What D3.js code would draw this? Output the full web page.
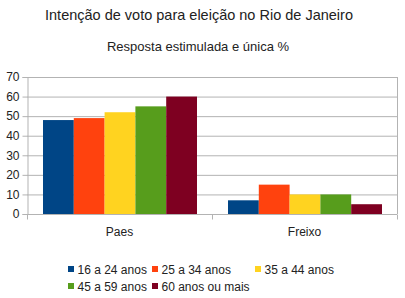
<!DOCTYPE html>
<html>
<head>
<meta charset="utf-8">
<script src="https://cdn.jsdelivr.net/npm/d3@7"></script>
<style>
  body { margin: 0; background: #fff; }
  svg text { font-family: "Liberation Sans", Arial, sans-serif; }
</style>
</head>
<body>
<div id="chart"></div>
<script>
// dados do grafico
const candidatos = ["Paes", "Freixo"];
const faixas = ["16 a 24 anos", "25 a 34 anos", "35 a 44 anos", "45 a 59 anos", "60 anos ou mais"];
const valores = {
  "Paes":   [48, 49, 52, 55, 60],
  "Freixo": [7, 15, 10, 10, 5]
};
const yTicks = [0, 10, 20, 30, 40, 50, 60, 70];
const cores = ["#004586", "#ff420e", "#ffd320", "#579d1c", "#7e0021"];

const W = 405, H = 298;
const margin = { top: 77, right: 8, bottom: 84, left: 27 };
const w = W - margin.left - margin.right;
const h = H - margin.top - margin.bottom;

const svg = d3.select("#chart").append("svg")
  .attr("width", W).attr("height", H);

// titulos
svg.append("text").attr("x", 199).attr("y", 20)
  .attr("text-anchor", "middle").attr("font-size", 14.5).attr("fill", "#222")
  .text("Intenção de voto para eleição no Rio de Janeiro");
svg.append("text").attr("x", 198).attr("y", 51)
  .attr("text-anchor", "middle").attr("font-size", 13).attr("fill", "#222")
  .text("Resposta estimulada e única %");

const g = svg.append("g").attr("transform", `translate(${margin.left},${margin.top})`);

const x0 = d3.scaleBand().domain(candidatos).range([0, w]);
const x1 = d3.scaleBand().domain(faixas).range([16, x0.bandwidth() - 15]);
const y = d3.scaleLinear().domain([0, 70]).range([h, 0]);

// grade
g.append("g").selectAll("line").data(yTicks).join("line")
  .attr("x1", 0).attr("x2", w)
  .attr("y1", d => y(d) + 0.5).attr("y2", d => y(d) + 0.5)
  .attr("stroke", "#b3b3b3");
g.append("line").attr("x1", w + 0.5).attr("x2", w + 0.5).attr("y1", 0).attr("y2", h)
  .attr("stroke", "#b3b3b3");

// eixo y
const yAxis = g.append("g").attr("transform", "translate(0.5,0)")
  .call(d3.axisLeft(y).tickValues(yTicks).tickSize(5).tickPadding(3));
yAxis.select(".domain").attr("stroke", "#b3b3b3");
yAxis.selectAll(".tick line").attr("stroke", "#b3b3b3");
yAxis.selectAll("text").attr("font-size", 12).attr("fill", "#222")
  .attr("font-family", "Liberation Sans, Arial, sans-serif");

// eixo x
const xAxis = g.append("g").attr("transform", `translate(0,${h + 0.5})`);
xAxis.append("line").attr("x1", 0).attr("x2", w).attr("stroke", "#b3b3b3");
xAxis.selectAll(".tk").data([0, x0.bandwidth(), w]).join("line")
  .attr("x1", d => d + 0.5).attr("x2", d => d + 0.5).attr("y1", 0).attr("y2", 5)
  .attr("stroke", "#b3b3b3");
xAxis.selectAll(".lbl").data(candidatos).join("text")
  .attr("x", d => x0(d) + x0.bandwidth() / 2).attr("y", 21)
  .attr("text-anchor", "middle").attr("font-size", 12).attr("fill", "#222")
  .text(d => d);

// barras
const grupos = g.selectAll(".grupo").data(candidatos).join("g")
  .attr("transform", d => `translate(${x0(d)},0)`);
grupos.selectAll("rect").data(c => valores[c].map((v, i) => ({ faixa: faixas[i], v, i })))
  .join("rect")
  .attr("x", d => x1(d.faixa))
  .attr("width", x1.bandwidth())
  .attr("y", d => y(d.v))
  .attr("height", d => y(0) - y(d.v))
  .attr("fill", d => cores[d.i]);

// legenda
const legPos = [[68, 269], [152, 269], [255, 269], [68, 286], [152, 286]];
const leg = svg.append("g").selectAll("g").data(faixas).join("g")
  .attr("transform", (d, i) => `translate(${legPos[i][0]},${legPos[i][1]})`);
leg.append("rect").attr("x", 0).attr("y", -3).attr("width", 6).attr("height", 6)
  .attr("fill", (d, i) => cores[i]);
leg.append("text").attr("x", 9.5).attr("y", 4.5).attr("font-size", 12).attr("fill", "#222")
  .text(d => d);
</script>
</body>
</html>
